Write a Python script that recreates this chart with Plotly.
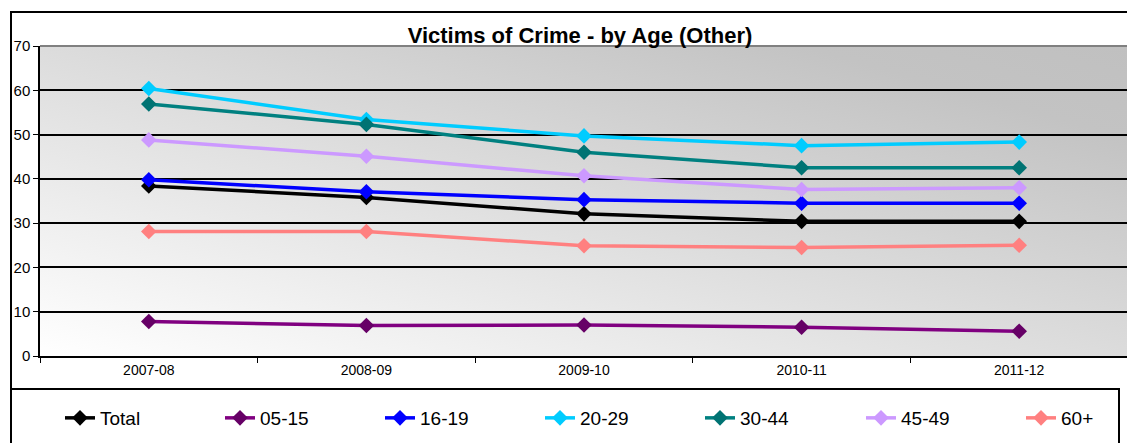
import base64
import plotly.graph_objects as go

# ------------------------------------------------------------
# Data
# ------------------------------------------------------------
years = ["2007-08", "2008-09", "2009-10", "2010-11", "2011-12"]

total = [38.4, 35.8, 32.1, 30.4, 30.4]
age_05_15 = [7.8, 6.9, 7.0, 6.5, 5.6]
age_16_19 = [39.8, 37.1, 35.3, 34.5, 34.5]
age_20_29 = [60.4, 53.4, 49.7, 47.5, 48.3]
age_30_44 = [56.9, 52.3, 46.0, 42.5, 42.5]
age_45_49 = [48.8, 45.1, 40.7, 37.6, 38.0]
age_60_plus = [28.1, 28.1, 24.9, 24.5, 25.0]

series = [
    ("Total", total, "#000000", "#000000"),
    ("05-15", age_05_15, "#800080", "#660066"),
    ("16-19", age_16_19, "#0000FF", "#0000FF"),
    ("20-29", age_20_29, "#00CCFF", "#00CCFF"),
    ("30-44", age_30_44, "#008080", "#007373"),
    ("45-49", age_45_49, "#CC99FF", "#CC99FF"),
    ("60+", age_60_plus, "#FF8080", "#FF8080"),
]

# ------------------------------------------------------------
# Geometry helpers (screen pixel -> paper coordinates)
# the page body adds an 8px margin, so the figure is shifted by OFF
# ------------------------------------------------------------
OFF = 8
W, H = 1135 - OFF, 443 - OFF
L, R = 40 - OFF, 7
T = 46 - OFF
B = H - (356 - OFF)
PW, PH = W - L - R, H - T - B


def px_x(x):
    return (x - OFF - L) / PW


def px_y(y):
    return (H - B - (y - OFF)) / PH


# diagonal grey gradient for the plot area (light bottom-left, dark top-right)
svg = (
    '<svg xmlns="http://www.w3.org/2000/svg" width="1000" height="300" '
    'preserveAspectRatio="none" viewBox="0 0 1000 300">'
    '<defs><linearGradient id="g" x1="0" y1="1" x2="1" y2="0">'
    '<stop offset="0" stop-color="#ffffff"/>'
    '<stop offset="0.85" stop-color="#c3c3c3"/>'
    '<stop offset="1" stop-color="#c0c0c0"/>'
    '</linearGradient></defs>'
    '<rect width="1000" height="300" fill="url(#g)"/></svg>'
)
bg_src = "data:image/svg+xml;base64," + base64.b64encode(svg.encode()).decode()

font_family = "Liberation Sans, Arial, sans-serif"

fig = go.Figure()

# one legend per series so each entry sits where Excel put it
legend_text_x = [100, 260, 420, 580, 740, 901, 1061]
legend_layouts = {}

for i, (name, vals, line_color, marker_color) in enumerate(series):
    key = "legend" if i == 0 else f"legend{i + 1}"
    fig.add_trace(go.Scatter(
        x=years,
        y=vals,
        name=name,
        mode="lines+markers",
        line=dict(color=line_color, width=3.5),
        marker=dict(symbol="diamond", size=12, color=marker_color),
        legend=key,
    ))
    legend_layouts[key] = dict(
        orientation="h",
        x=px_x(legend_text_x[i] - 40), xanchor="left",
        y=px_y(418), yanchor="middle",
        font=dict(size=19, family=font_family, color="black"),
        bgcolor="rgba(0,0,0,0)",
        borderwidth=0,
    )

fig.update_layout(
    width=W,
    height=H,
    margin=dict(l=L, r=R, t=T, b=B, autoexpand=False),
    paper_bgcolor="white",
    plot_bgcolor="rgba(0,0,0,0)",
    font=dict(family=font_family, color="black"),
    title=dict(
        text="<b>Victims of Crime - by Age (Other)</b>",
        x=(580 - OFF) / W, xanchor="center",
        y=1 - (35 - OFF) / H, yanchor="middle",
        font=dict(size=22, family=font_family, color="black"),
    ),
    showlegend=True,
    images=[dict(
        source=bg_src,
        xref="paper", yref="paper",
        x=0, y=1, sizex=1, sizey=1,
        sizing="stretch", layer="below",
    )],
    **legend_layouts,
)

fig.update_xaxes(
    type="category",
    range=[-0.5, 4.5],
    showgrid=False,
    showline=True,
    linecolor="black",
    linewidth=1.5,
    ticks="outside",
    tickson="boundaries",
    ticklen=5,
    tickcolor="black",
    tickfont=dict(size=14),
    zeroline=False,
)

fig.update_yaxes(
    range=[0, 70],
    dtick=10,
    showgrid=True,
    gridcolor="black",
    gridwidth=1.5,
    showline=True,
    linecolor="black",
    linewidth=1.5,
    ticks="outside",
    ticklen=5,
    tickcolor="black",
    tickfont=dict(size=15),
    zeroline=False,
)

# grey border on top and right of the plot area
fig.add_shape(type="line", xref="paper", yref="paper",
              x0=0, y0=1, x1=1, y1=1, line=dict(color="#808080", width=2))
fig.add_shape(type="line", xref="paper", yref="paper",
              x0=1, y0=0, x1=1, y1=1, line=dict(color="#808080", width=2))

# outer chart frame
fig.add_shape(type="rect", xref="paper", yref="paper",
              x0=px_x(11), y0=px_y(460), x1=px_x(1145), y1=px_y(12),
              line=dict(color="black", width=2), fillcolor="rgba(0,0,0,0)")

# legend box
fig.add_shape(type="rect", xref="paper", yref="paper",
              x0=px_x(11), y0=px_y(460), x1=px_x(1119), y1=px_y(389),
              line=dict(color="black", width=2), fillcolor="rgba(0,0,0,0)")

fig.write_html("out.html")
